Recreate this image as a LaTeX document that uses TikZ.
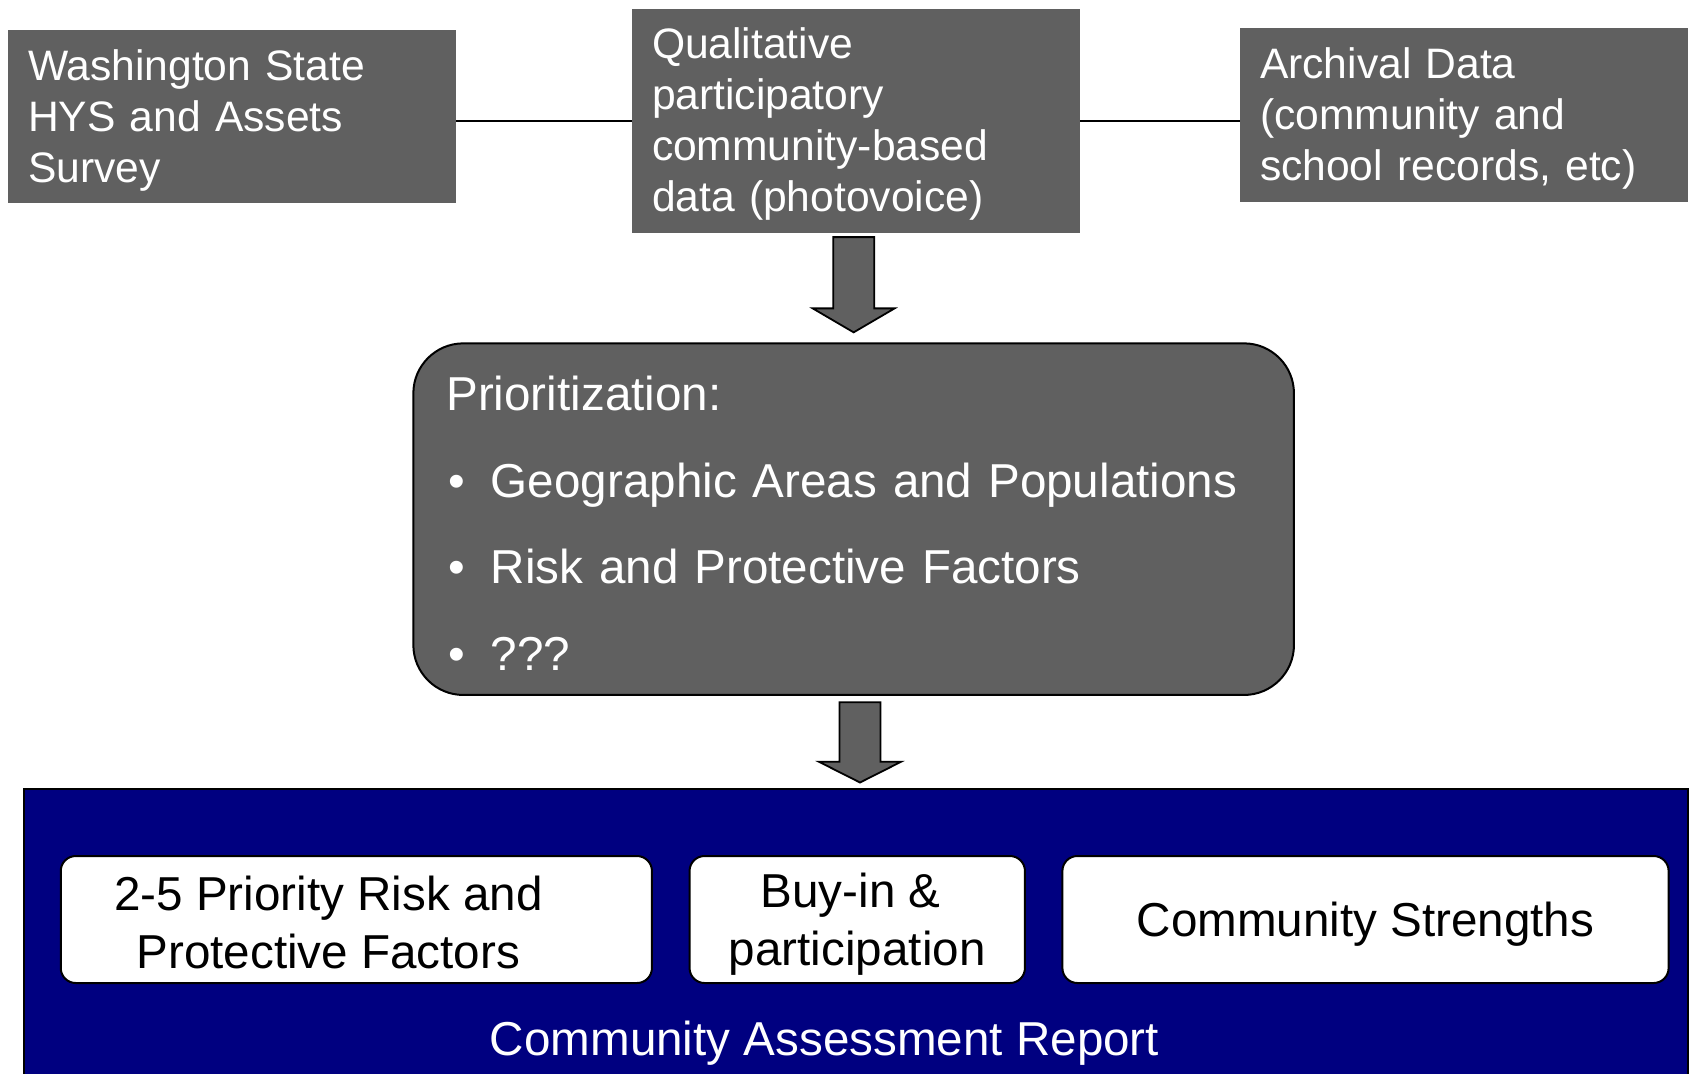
\documentclass[tikz,border=0pt]{standalone}
\usepackage{fontspec}
\setmainfont{Liberation Sans}
\usepackage{xcolor}
\usetikzlibrary{positioning, calc}
\definecolor{boxgray}{RGB}{96,96,96}
\definecolor{reportblue}{RGB}{0,0,128}
\newcommand{\boxstrut}{\rule[-0.212em]{0pt}{1.117em}}
\newcommand{\itembullet}{\hspace*{1.3pt}\makebox[21pt][l]{\textbullet}}
% block arrow pointing down: top point, tip point, head length
\newcommand{\blockdown}[3]{%
  \draw[blk] let \p1=#1, \p2=#2 in
    (\x2-10.25pt,\y1) -- (\x2+10.25pt,\y1) -- (\x2+10.25pt,\y2+#3) -- (\x2+20.5pt,\y2+#3)
    -- (\x2,\y2) -- (\x2-20.5pt,\y2+#3) -- (\x2-10.25pt,\y2+#3) -- cycle;}

\begin{document}
\begin{tikzpicture}[x=0.5pt, y=-0.5pt,
  src/.style={rectangle, fill=boxgray, text=white, align=left, text width=204pt,
              inner xsep=10pt, inner ysep=0pt, font=\fontsize{21.3}{25.5}\selectfont},
  prbox/.style={rectangle, rounded corners=25pt, draw=black, line width=1pt, fill=boxgray,
                text=white, align=left, text width=407.3pt, inner xsep=16.5pt,
                minimum height=175.8pt, font=\fontsize{23.8}{43.3}\selectfont},
  outbox/.style={rectangle, rounded corners=7.5pt, draw=black, line width=1pt, fill=white,
                 align=center, inner sep=0pt, minimum height=63.5pt,
                 font=\fontsize{23.8}{29}\selectfont},
  report/.style={rectangle, draw=black, line width=1pt, fill=reportblue, inner sep=0pt},
  blk/.style={draw=black, line width=0.9pt, fill=boxgray, line join=miter},
  ln/.style={draw=black, line width=1pt}
]
  \useasboundingbox (0,0) rectangle (1692,1073);

  % data sources
  \node[src, minimum height=86.5pt] (hys)  at (232,116.5)
    {\boxstrut Washington State\\HYS and Assets\\Survey\boxstrut};
  \node[src, minimum height=112pt]  (mid)  at (856,120.5)
    {\boxstrut Qualitative\\participatory\\community-based\\data (photovoice)\boxstrut};
  \node[src, minimum height=87pt]   (arch) at (1464,115)
    {\boxstrut Archival Data\\(community and\\school records, etc)\boxstrut};

  \draw[ln] (hys.east |- mid.west) -- (mid.west);
  \draw[ln] (mid.east) -- (mid.east -| arch.west);

  % prioritization
  \node[prbox] (prio) at (853.65,519.15)
    {\rule{0pt}{26.5pt}Prioritization:\\
     \itembullet Geographic Areas and Populations\\
     \itembullet Risk and Protective Factors\\
     \itembullet ???\boxstrut};

  % report
  \node[report, minimum width=832pt, minimum height=150pt, anchor=north] (report) at (856,787.5) {};
  \node[outbox, minimum width=295.6pt] (risk) at (356.35,919.5)
    {\rule{0pt}{25pt}2-5 Priority Risk and\hspace*{28pt}\\Protective Factors\boxstrut\hspace*{28pt}};
  \node[outbox, minimum width=167.7pt] (buyin) at (857.25,919.5)
    {\boxstrut Buy-in \&\hspace*{6.7pt}\\participation\boxstrut};
  \node[outbox, minimum width=303.1pt] (strength) at (1365.5,919.5)
    {\boxstrut Community Strengths\boxstrut};
  \node[anchor=base, inner sep=0pt, text=white, font=\fontsize{23.8}{29}\selectfont] (title)
    at (824.5,1055) {Community Assessment Report};

  % arrows
  \coordinate (a1top) at ($(mid.south)+(0,4.2)$);
  \coordinate (a1tip) at ($(prio.north)+(0,-10)$);
  \coordinate (a2top) at ($(prio.south)+(0,6.3)$);
  \coordinate (a2tip) at ($(report.north)+(4,-5)$);
  \blockdown{(a1top)}{(a1tip)}{12pt}
  \blockdown{(a2top)}{(a2tip)}{10.35pt}
\end{tikzpicture}
\end{document}
